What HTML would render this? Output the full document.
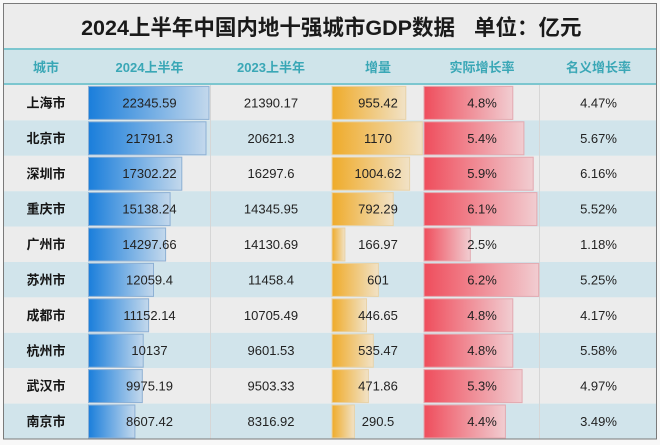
<!DOCTYPE html>
<html><head><meta charset="utf-8"><style>
html,body{margin:0;padding:0;background:#f8f8f8;}
svg{display:block;}
</style></head><body>
<svg width="660" height="445" viewBox="0 0 660 445" xmlns="http://www.w3.org/2000/svg" font-family="'Liberation Sans','Noto Sans CJK SC',sans-serif">
<defs>
<linearGradient id="gb" x1="0" y1="0" x2="1" y2="0"><stop offset="0" stop-color="#1a7edb"/><stop offset="1" stop-color="#c3d8ec"/></linearGradient>
<linearGradient id="go" x1="0" y1="0" x2="1" y2="0"><stop offset="0" stop-color="#efab2a"/><stop offset="1" stop-color="#f1e2c6"/></linearGradient>
<linearGradient id="gr" x1="0" y1="0" x2="1" y2="0"><stop offset="0" stop-color="#ef4d5c"/><stop offset="1" stop-color="#f1cdd1"/></linearGradient>
</defs>
<rect x="0" y="0" width="660" height="445" fill="#f8f8f8"/>
<!-- title -->
<rect x="3.5" y="3.5" width="653" height="45" fill="#ececec"/>
<g font-size="21.5" font-weight="bold" fill="#1a1a1a">
<text x="455" y="35" text-anchor="end">2024上半年中国内地十强城市GDP数据</text>
<text x="474" y="35" text-anchor="start">单位：亿元</text>
</g>
<!-- header -->
<rect x="3.5" y="48" width="653" height="37" fill="#cfe4ea"/>
<rect x="3.5" y="48" width="653" height="2" fill="#7cc6cf"/>
<rect x="3.5" y="83" width="653" height="2" fill="#7cc6cf"/>
<g font-size="13" font-weight="bold" fill="#3aa7b6" text-anchor="middle">
<text x="46" y="72">城市</text>
<text x="149.5" y="72">2024上半年</text>
<text x="271" y="72">2023上半年</text>
<text x="378" y="72">增量</text>
<text x="482" y="72">实际增长率</text>
<text x="598.5" y="72">名义增长率</text>
</g>
<!-- rows -->
<g id="rows">
<rect x="3.5" y="85" width="653" height="35.4" fill="#ececec"/>
<rect x="3.5" y="120.4" width="653" height="35.4" fill="#d1e4eb"/>
<rect x="3.5" y="155.8" width="653" height="35.4" fill="#ececec"/>
<rect x="3.5" y="191.2" width="653" height="35.4" fill="#d1e4eb"/>
<rect x="3.5" y="226.6" width="653" height="35.4" fill="#ececec"/>
<rect x="3.5" y="262" width="653" height="35.4" fill="#d1e4eb"/>
<rect x="3.5" y="297.4" width="653" height="35.4" fill="#ececec"/>
<rect x="3.5" y="332.8" width="653" height="35.4" fill="#d1e4eb"/>
<rect x="3.5" y="368.2" width="653" height="35.4" fill="#ececec"/>
<rect x="3.5" y="403.6" width="653" height="35.4" fill="#d1e4eb"/>
</g>
<!-- faint column dividers -->
<g stroke="#d6d6d6" stroke-width="1">
<line x1="210.5" y1="85" x2="210.5" y2="439"/>
<line x1="539.5" y1="85" x2="539.5" y2="439"/>
</g>
<!-- bars -->
<g stroke-width="1">
<g fill="url(#gb)" stroke="#8db0d4">
<rect x="88.5" y="86.4" width="120.5" height="33" />
<rect x="88.5" y="121.8" width="117.5" height="33" />
<rect x="88.5" y="157.2" width="93.3" height="33" />
<rect x="88.5" y="192.6" width="81.6" height="33" />
<rect x="88.5" y="228" width="77.1" height="33" />
<rect x="88.5" y="263.4" width="65" height="33" />
<rect x="88.5" y="298.8" width="60.1" height="33" />
<rect x="88.5" y="334.2" width="54.7" height="33" />
<rect x="88.5" y="369.6" width="53.8" height="33" />
<rect x="88.5" y="405" width="46.4" height="33" />
</g>
<g fill="url(#go)" stroke="#e8d2a8">
<rect x="332" y="86.4" width="73.8" height="33" />
<rect x="332" y="121.8" width="90.3" height="33" />
<rect x="332" y="157.2" width="77.6" height="33" />
<rect x="332" y="192.6" width="61.2" height="33" />
<rect x="332" y="228" width="12.9" height="33" />
<rect x="332" y="263.4" width="46.4" height="33" />
<rect x="332" y="298.8" width="34.5" height="33" />
<rect x="332" y="334.2" width="41.3" height="33" />
<rect x="332" y="369.6" width="36.4" height="33" />
<rect x="332" y="405" width="22.4" height="33" />
</g>
<g fill="url(#gr)" stroke="#e3a9b0">
<rect x="424" y="86.4" width="88.8" height="33" />
<rect x="424" y="121.8" width="99.9" height="33" />
<rect x="424" y="157.2" width="109.2" height="33" />
<rect x="424" y="192.6" width="112.9" height="33" />
<rect x="424" y="228" width="46.3" height="33" />
<rect x="424" y="263.4" width="114.7" height="33" />
<rect x="424" y="298.8" width="88.8" height="33" />
<rect x="424" y="334.2" width="88.8" height="33" />
<rect x="424" y="369.6" width="98.1" height="33" />
<rect x="424" y="405" width="81.4" height="33" />
</g>
</g>
<!-- city names -->
<g font-size="13" font-weight="bold" fill="#151515" text-anchor="middle">
<text x="46" y="107.5">上海市</text>
<text x="46" y="142.9">北京市</text>
<text x="46" y="178.3">深圳市</text>
<text x="46" y="213.7">重庆市</text>
<text x="46" y="249.1">广州市</text>
<text x="46" y="284.5">苏州市</text>
<text x="46" y="319.9">成都市</text>
<text x="46" y="355.3">杭州市</text>
<text x="46" y="390.7">武汉市</text>
<text x="46" y="426.1">南京市</text>
</g>
<!-- numbers -->
<g font-size="13" fill="#222" text-anchor="middle">
<g transform="translate(149.5,0)">
<text y="107.4">22345.59</text><text y="142.8">21791.3</text><text y="178.2">17302.22</text><text y="213.6">15138.24</text><text y="249">14297.66</text><text y="284.4">12059.4</text><text y="319.8">11152.14</text><text y="355.2">10137</text><text y="390.6">9975.19</text><text y="426">8607.42</text>
</g>
<g transform="translate(271,0)">
<text y="107.4">21390.17</text><text y="142.8">20621.3</text><text y="178.2">16297.6</text><text y="213.6">14345.95</text><text y="249">14130.69</text><text y="284.4">11458.4</text><text y="319.8">10705.49</text><text y="355.2">9601.53</text><text y="390.6">9503.33</text><text y="426">8316.92</text>
</g>
<g transform="translate(378,0)">
<text y="107.4">955.42</text><text y="142.8">1170</text><text y="178.2">1004.62</text><text y="213.6">792.29</text><text y="249">166.97</text><text y="284.4">601</text><text y="319.8">446.65</text><text y="355.2">535.47</text><text y="390.6">471.86</text><text y="426">290.5</text>
</g>
<g transform="translate(482,0)">
<text y="107.4">4.8%</text><text y="142.8">5.4%</text><text y="178.2">5.9%</text><text y="213.6">6.1%</text><text y="249">2.5%</text><text y="284.4">6.2%</text><text y="319.8">4.8%</text><text y="355.2">4.8%</text><text y="390.6">5.3%</text><text y="426">4.4%</text>
</g>
<g transform="translate(598.5,0)">
<text y="107.4">4.47%</text><text y="142.8">5.67%</text><text y="178.2">6.16%</text><text y="213.6">5.52%</text><text y="249">1.18%</text><text y="284.4">5.25%</text><text y="319.8">4.17%</text><text y="355.2">5.58%</text><text y="390.6">4.97%</text><text y="426">3.49%</text>
</g>
</g>
<!-- outer border -->
<rect x="3.5" y="3.5" width="653" height="435.5" fill="none" stroke="#7a7a7a" stroke-width="1"/>
</svg>
</body></html>
